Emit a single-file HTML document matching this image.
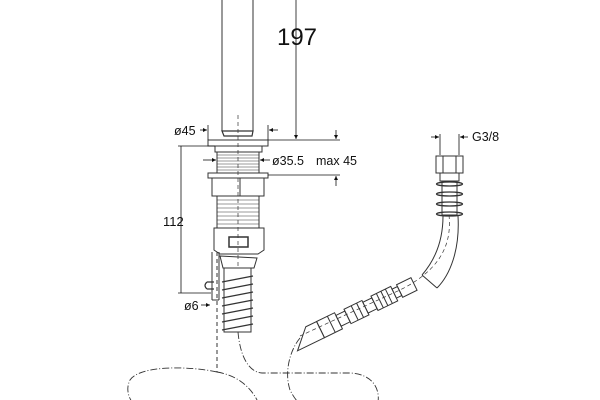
<!DOCTYPE html>
<html><head><meta charset="utf-8"><style>
html,body{margin:0;padding:0;background:#fff;width:600px;height:400px;overflow:hidden}
svg{display:block}
text{font-family:"Liberation Sans",sans-serif;fill:#111}
</style></head><body>
<svg width="600" height="400" viewBox="0 0 600 400" xmlns="http://www.w3.org/2000/svg">
<defs><marker id="a" markerWidth="6" markerHeight="6" refX="5" refY="3" orient="auto"><path d="M0,0.5 L5,3 L0,5.5z" fill="#111"/></marker></defs>
<g fill="none" stroke="#333" stroke-width="1">
<line x1="222" y1="0" x2="222" y2="131"/><line x1="253" y1="0" x2="253" y2="131"/>
<path d="M222,131 L253,131 L252,136 L224,136 Z" stroke-width="1.2"/>
<rect x="208" y="140" width="60" height="6"/>
<rect x="215" y="146" width="47" height="6"/>
<rect x="217" y="152" width="42" height="21"/>
<g stroke-width="0.6"><line x1="217" y1="155" x2="259" y2="155"/><line x1="217" y1="158" x2="259" y2="158"/><line x1="217" y1="161" x2="259" y2="161"/><line x1="217" y1="164" x2="259" y2="164"/><line x1="217" y1="167" x2="259" y2="167"/><line x1="217" y1="170" x2="259" y2="170"/></g>
<rect x="208" y="173" width="60" height="5"/>
<rect x="212" y="178" width="52" height="18"/>
<line x1="240" y1="178" x2="240" y2="196"/>
<rect x="217" y="196" width="42" height="32"/>
<g stroke-width="0.6"><line x1="217" y1="200" x2="259" y2="200"/><line x1="217" y1="204" x2="259" y2="204"/><line x1="217" y1="208" x2="259" y2="208"/><line x1="217" y1="212" x2="259" y2="212"/><line x1="217" y1="216" x2="259" y2="216"/><line x1="217" y1="220" x2="259" y2="220"/><line x1="217" y1="224" x2="259" y2="224"/></g>
<path d="M214,228 L264,228 L264,250 L258,254 L220,254 L214,250 Z"/>
<rect x="229" y="237" width="19" height="10" stroke-width="1.5"/>
<path d="M220,256 L257,258 L254,268 L223,268 Z"/>
<rect x="224" y="268" width="27" height="64"/>
<g stroke-width="1.3"><path d="M222,282 L253,276"/><path d="M222,290 L253,284"/><path d="M222,298 L253,292"/><path d="M222,306 L253,300"/><path d="M222,314 L253,308"/><path d="M222,322 L253,316"/><path d="M222,330 L253,324"/></g>
<path d="M212,252 L212,300 M219,252 L219,300 M212,300 L219,300"/>
<path d="M207,282 L214,282 M207,289 L214,289 M207,282 Q203,285.5 207,289" stroke-width="1.2"/>
<line x1="238" y1="115" x2="238" y2="268" stroke-dasharray="4,3" stroke-width="0.7"/>
<line x1="217" y1="252" x2="217" y2="372" stroke-dasharray="4,3"/>
<g stroke-dasharray="7,2,1,2" stroke-width="0.9">
<path d="M217,372 C190,366 140,365 130,380 C126,388 128,396 132,402"/>
<path d="M217,372 C235,375 250,385 258,402"/>
<path d="M238,332 C240,355 248,372 262,373 L350,373 C372,374 380,388 378,402"/>
<path d="M300,338 C290,350 284,372 290,390 C293,396 296,400 298,402"/>
</g>
<rect x="436" y="156" width="27" height="17"/>
<line x1="443" y1="156" x2="443" y2="173"/><line x1="456" y1="156" x2="456" y2="173"/>
<rect x="440" y="173" width="19" height="8"/>
<rect x="442" y="181" width="15" height="34"/>
<g stroke-width="1.3"><ellipse cx="449.5" cy="184" rx="13" ry="2"/><ellipse cx="449.5" cy="194" rx="13" ry="2"/><ellipse cx="449.5" cy="204" rx="13" ry="2"/><ellipse cx="449.5" cy="214" rx="13" ry="2"/></g>
<path d="M443,216 C443,240 435,260 422,275"/>
<path d="M458,216 C460,250 450,275 437,288"/>
<line x1="422" y1="275" x2="437" y2="288"/>
<path d="M449,215 C452,245 440,270 400,290 L330,322 L300,336" stroke-dasharray="4,3" stroke-width="0.7"/>
<g transform="translate(414,284) rotate(154)">
<rect x="0" y="-7" width="16" height="14"/>
<rect x="16" y="-5" width="6" height="10"/>
<rect x="22" y="-8" width="22" height="16"/><line x1="28" y1="-8" x2="28" y2="8"/><line x1="33" y1="-8" x2="33" y2="8"/><line x1="38" y1="-8" x2="38" y2="8"/>
<rect x="44" y="-6" width="10" height="12"/>
<rect x="54" y="-8" width="20" height="16"/><line x1="60" y1="-8" x2="60" y2="8"/><line x1="66" y1="-8" x2="66" y2="8"/>
<rect x="74" y="-6" width="10" height="12"/>
<rect x="84" y="-9" width="20" height="18"/><line x1="92" y1="-9" x2="92" y2="9"/>
<path d="M104,-9 L120,-9 L134,-9 L116,9 L104,9 Z"/>
</g>
</g>
<g stroke="#111" stroke-width="0.8" fill="none">
<line x1="296" y1="0" x2="296" y2="139" marker-end="url(#a)"/>
<line x1="268" y1="140" x2="340" y2="140"/>
<line x1="208" y1="125" x2="208" y2="140"/><line x1="268" y1="125" x2="268" y2="140"/>
<line x1="200" y1="130" x2="207" y2="130" marker-end="url(#a)"/>
<line x1="278" y1="130" x2="269" y2="130" marker-end="url(#a)"/>
<line x1="336" y1="130" x2="336" y2="139" marker-end="url(#a)"/>
<line x1="268" y1="175" x2="340" y2="175"/>
<line x1="336" y1="186" x2="336" y2="176" marker-end="url(#a)"/>
<line x1="203" y1="160" x2="216" y2="160" marker-end="url(#a)"/>
<line x1="270" y1="160" x2="260" y2="160" marker-end="url(#a)"/>
<line x1="181" y1="146" x2="181" y2="293"/>
<line x1="178" y1="146" x2="215" y2="146"/>
<line x1="178" y1="293" x2="211" y2="293"/>
<line x1="201" y1="305" x2="210" y2="305" marker-end="url(#a)"/>
<line x1="440" y1="134" x2="440" y2="155"/><line x1="459" y1="134" x2="459" y2="155"/>
<line x1="431" y1="137" x2="439" y2="137" marker-end="url(#a)"/>
<line x1="468" y1="137" x2="460" y2="137" marker-end="url(#a)"/>
</g>
<text x="297" y="45" font-size="24" text-anchor="middle">197</text>
<text x="174" y="135" font-size="12.5">ø45</text>
<text x="272" y="165" font-size="12.5">ø35.5</text>
<text x="316" y="165" font-size="12.5">max 45</text>
<text x="163" y="226" font-size="13">112</text>
<text x="184" y="310" font-size="12.5">ø6</text>
<text x="472" y="141" font-size="12.5">G3/8</text>
</svg>
</body></html>
